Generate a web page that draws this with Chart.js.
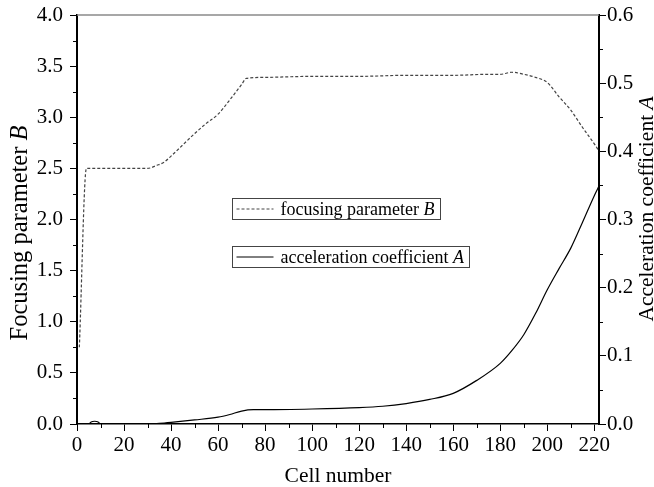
<!DOCTYPE html>
<html>
<head>
<meta charset="utf-8">
<script src="https://cdn.jsdelivr.net/npm/chart.js@4.4.0/dist/chart.umd.min.js"></script>
<style>
  html, body { margin: 0; padding: 0; background: #fff; }
  #wrap { width: 654px; height: 487px; }
</style>
</head>
<body>
<div id="wrap"><canvas id="grafico" width="654" height="487"></canvas></div>
<script>
// focusing parameter B along the cells (left axis)
const cellB = [1, 4, 10, 20, 30, 34, 37, 40, 45, 50, 55, 60, 65, 70, 72, 80, 100, 120, 140, 160, 175, 180, 185, 190, 195, 200, 205, 210, 215, 220, 222];
const focusingB = [0.75, 2.50, 2.50, 2.50, 2.50, 2.53, 2.56, 2.62, 2.73, 2.84, 2.94, 3.03, 3.17, 3.32, 3.38, 3.39, 3.40, 3.40, 3.41, 3.41, 3.42, 3.42, 3.44, 3.42, 3.39, 3.34, 3.20, 3.07, 2.90, 2.74, 2.67];

// acceleration coefficient A along the cells (right axis)
const cellA = [0, 5, 6, 7.5, 9, 10, 30, 35, 40, 50, 60, 65, 70, 75, 80, 100, 120, 130, 140, 150, 160, 170, 180, 185, 190, 195, 200, 205, 210, 215, 220, 222];
const accelA = [0, 0, 0.003, 0.004, 0.003, 0, 0, 0.001, 0.0025, 0.006, 0.010, 0.014, 0.019, 0.021, 0.021, 0.022, 0.024, 0.026, 0.030, 0.036, 0.045, 0.064, 0.089, 0.108, 0.131, 0.162, 0.197, 0.228, 0.258, 0.296, 0.335, 0.349];

// tick labels
const xLabels = [0, 20, 40, 60, 80, 100, 120, 140, 160, 180, 200, 220];
const bLabels = [0, 0.5, 1.0, 1.5, 2.0, 2.5, 3.0, 3.5, 4.0];
const aLabels = [0, 0.1, 0.2, 0.3, 0.4, 0.5, 0.6];

const serif = '"Liberation Serif", "Times New Roman", serif';

function pontos(xs, ys) {
    return xs.map((x, i) => ({ x: x, y: ys[i] }));
}

// texto com a última letra em itálico (B, A)
function textoMisto(ctx, normal, italico, size, x, y, align) {
    ctx.font = size + 'px ' + serif;
    const w1 = ctx.measureText(normal).width;
    ctx.font = 'italic ' + size + 'px ' + serif;
    const w2 = ctx.measureText(italico).width;
    let x0 = x;
    if (align === 'center') x0 = x - (w1 + w2) / 2;
    ctx.textAlign = 'left';
    ctx.font = size + 'px ' + serif;
    ctx.fillText(normal, x0, y);
    ctx.font = 'italic ' + size + 'px ' + serif;
    ctx.fillText(italico, x0 + w1, y);
}

// ajusta a caixa do eixo e zera a folga dos rótulos
function caixaEixo(largura, altura) {
    return s => {
        if (largura !== null) s.width = largura;
        if (altura !== null) s.height = altura;
        s.paddingTop = 0;
        s.paddingBottom = 0;
        s.paddingLeft = 0;
        s.paddingRight = 0;
    };
}

// traços menores, linha de cima, títulos e legenda
const decoracao = {
    id: 'decoracao',
    afterDraw(chart) {
        const { ctx, chartArea: a, scales } = chart;
        ctx.save();

        // linha superior cinza
        ctx.strokeStyle = '#8a8a8a';
        ctx.lineWidth = 1.5;
        ctx.beginPath();
        ctx.moveTo(a.left, a.top);
        ctx.lineTo(a.right, a.top);
        ctx.stroke();

        // traços menores
        ctx.strokeStyle = '#000';
        ctx.lineWidth = 1;
        ctx.beginPath();
        for (let i = 0; i < xLabels.length - 1; i++) {
            const px = Math.round(scales.x.getPixelForValue((xLabels[i] + xLabels[i + 1]) / 2)) + 0.5;
            ctx.moveTo(px, a.bottom);
            ctx.lineTo(px, a.bottom + 4);
        }
        for (let i = 0; i < bLabels.length - 1; i++) {
            const py = Math.round(scales.yB.getPixelForValue((bLabels[i] + bLabels[i + 1]) / 2)) + 0.5;
            ctx.moveTo(a.left, py);
            ctx.lineTo(a.left - 4, py);
        }
        for (let i = 0; i < aLabels.length - 1; i++) {
            const py = Math.round(scales.yA.getPixelForValue((aLabels[i] + aLabels[i + 1]) / 2)) + 0.5;
            ctx.moveTo(a.right, py);
            ctx.lineTo(a.right + 4, py);
        }
        ctx.stroke();

        // títulos dos eixos
        ctx.fillStyle = '#000';
        ctx.textBaseline = 'alphabetic';
        ctx.font = '21.5px ' + serif;
        ctx.textAlign = 'center';
        ctx.fillText('Cell number', (a.left + a.right) / 2, a.bottom + 58);

        ctx.save();
        ctx.translate(26.5, 233);
        ctx.rotate(-Math.PI / 2);
        textoMisto(ctx, 'Focusing parameter ', 'B', 24.5, 0, 0, 'center');
        ctx.restore();

        ctx.save();
        ctx.translate(653, 209);
        ctx.rotate(-Math.PI / 2);
        textoMisto(ctx, 'Acceleration coefficient ', 'A', 21.5, 0, 0, 'center');
        ctx.restore();

        // legenda em caixas
        const caixas = [
            { x: 232.5, y: 198.5, w: 208, h: 21, dash: [3, 2], cor: '#444', normal: 'focusing parameter ', italico: 'B' },
            { x: 232.5, y: 246.5, w: 237, h: 21, dash: [], cor: '#000', normal: 'acceleration coefficient ', italico: 'A' }
        ];
        caixas.forEach(c => {
            ctx.strokeStyle = '#444';
            ctx.lineWidth = 1;
            ctx.setLineDash([]);
            ctx.strokeRect(c.x, c.y, c.w, c.h);
            ctx.strokeStyle = c.cor;
            ctx.setLineDash(c.dash);
            ctx.beginPath();
            ctx.moveTo(c.x + 4, c.y + c.h / 2);
            ctx.lineTo(c.x + 41, c.y + c.h / 2);
            ctx.stroke();
            ctx.setLineDash([]);
            ctx.fillStyle = '#000';
            textoMisto(ctx, c.normal, c.italico, 18, c.x + 48, c.y + 16, 'left');
        });

        ctx.restore();
    }
};

const ctx = document.getElementById('grafico');
new Chart(ctx, {
    type: 'line',
    data: {
        datasets: [
            {
                label: 'focusing parameter B',
                data: pontos(cellB, focusingB),
                yAxisID: 'yB',
                borderColor: '#444',
                borderWidth: 1.2,
                borderDash: [3, 2],
                pointRadius: 0,
                cubicInterpolationMode: 'monotone',
                fill: false
            },
            {
                label: 'acceleration coefficient A',
                data: pontos(cellA, accelA),
                yAxisID: 'yA',
                borderColor: '#000',
                borderWidth: 1.2,
                pointRadius: 0,
                cubicInterpolationMode: 'monotone',
                fill: false
            }
        ]
    },
    options: {
        responsive: false,
        animation: false,
        layout: { padding: { top: 15, left: 0, right: 0, bottom: 0 } },
        plugins: {
            legend: { display: false },
            tooltip: { enabled: false }
        },
        scales: {
            x: {
                type: 'linear',
                min: 0,
                max: 222,
                afterBuildTicks: s => { s.ticks = xLabels.map(v => ({ value: v })); },
                afterFit: caixaEixo(null, 63),
                grid: { drawOnChartArea: false, tickLength: 7, tickColor: '#000', tickWidth: 1 },
                border: { color: '#000', width: 1.5 },
                ticks: {
                    color: '#000',
                    font: { family: serif, size: 21 },
                    padding: 2,
                    maxRotation: 0,
                    autoSkip: false,
                    callback: v => String(v)
                }
            },
            yB: {
                position: 'left',
                min: 0,
                max: 4,
                afterBuildTicks: s => { s.ticks = bLabels.map(v => ({ value: v })); },
                afterFit: caixaEixo(77, null),
                grid: { drawOnChartArea: false, tickLength: 7, tickColor: '#000', tickWidth: 1 },
                border: { color: '#000', width: 2 },
                ticks: {
                    color: '#000',
                    font: { family: serif, size: 21 },
                    padding: 7,
                    callback: v => v.toFixed(1)
                }
            },
            yA: {
                position: 'right',
                min: 0,
                max: 0.6,
                afterBuildTicks: s => { s.ticks = aLabels.map(v => ({ value: v })); },
                afterFit: caixaEixo(55, null),
                grid: { drawOnChartArea: false, tickLength: 7, tickColor: '#000', tickWidth: 1 },
                border: { color: '#000', width: 2 },
                ticks: {
                    color: '#000',
                    font: { family: serif, size: 21 },
                    padding: 1,
                    callback: v => v.toFixed(1)
                }
            }
        }
    },
    plugins: [decoracao]
});
</script>
</body>
</html>
